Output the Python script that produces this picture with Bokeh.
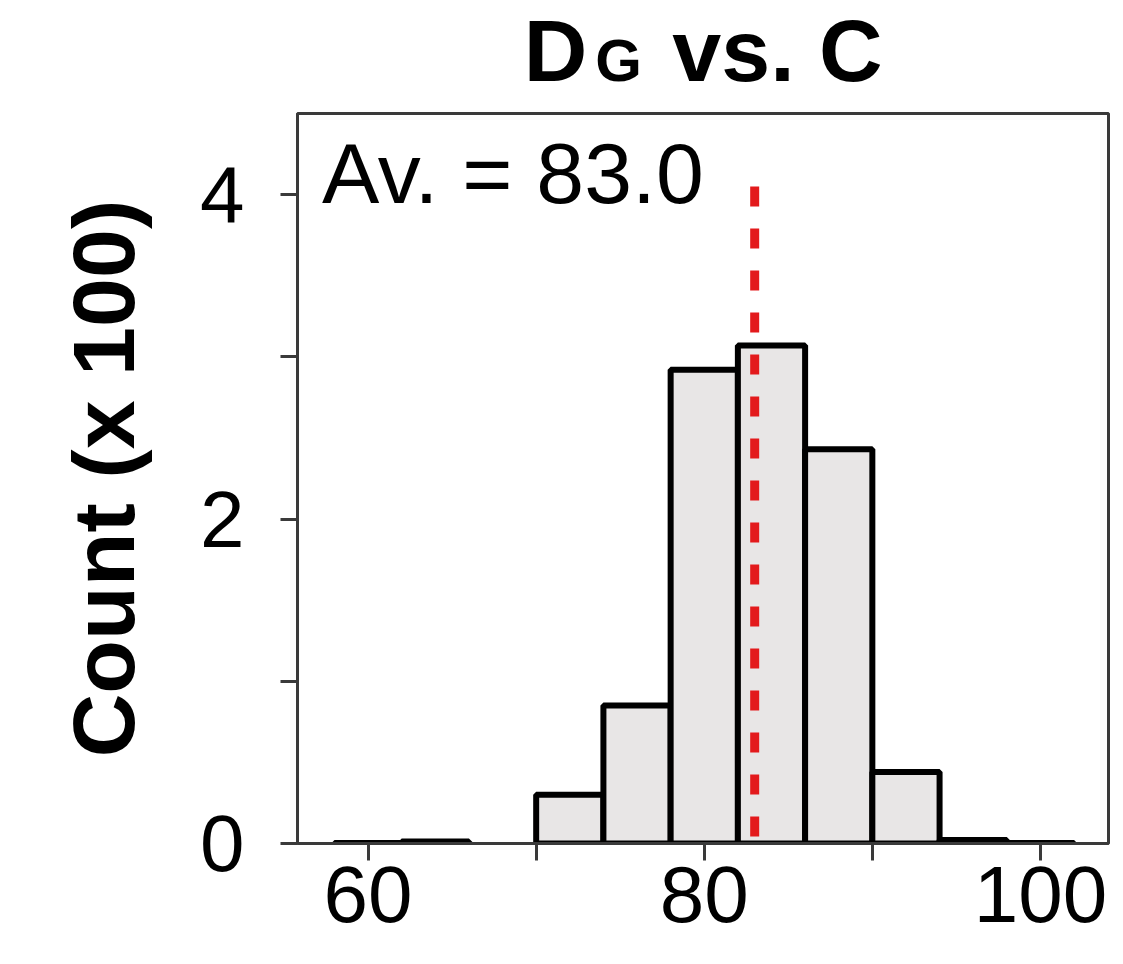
from bokeh.plotting import figure
from bokeh.models import Range1d, FixedTicker, ColumnDataSource
from bokeh.layouts import column
from bokeh.core.properties import value
from bokeh.embed import file_html
from bokeh.resources import INLINE

# ---- data (counts in hundreds) ----
bin_left = [58, 62, 66, 70, 74, 78, 82, 86, 90, 94, 98]
bin_right = [62, 66, 70, 74, 78, 82, 86, 90, 94, 98, 102]
counts = [0.003, 0.012, 0.0, 0.30, 0.85, 2.92, 3.07, 2.43, 0.44, 0.022, 0.003]
average = 83.0
x_ticks = [60, 70, 80, 90, 100]
x_tick_labels = {60: "60", 70: "", 80: "80", 90: "", 100: "100"}
y_ticks = [0, 1, 2, 3, 4]
y_tick_labels = {0: "0", 1: "", 2: "2", 3: "", 4: "4"}
title_main = "D"
title_sub = "G"
title_rest = "vs. C"
y_label = "Count (x 100)"

FONT = "Liberation Sans"
DARK = "#3a3a3a"
W = 1123
TITLE_H = 111
MAIN_H = 964 - TITLE_H

xr = Range1d(55.8, 104.05)

# ---- title strip ----
t = figure(width=W, height=TITLE_H, output_backend="svg", toolbar_location=None,
           x_range=xr, y_range=Range1d(0, TITLE_H))
t.min_border_left = 297
t.min_border_right = 15
t.min_border_top = 0
t.min_border_bottom = 0
t.axis.visible = False
t.grid.visible = False
t.outline_line_color = None
t.text(x=[69.26], y=[61], text=[title_main], text_font=value(FONT),
       text_font_size="88px", text_font_style="bold", text_color="black",
       text_baseline="alphabetic", text_align="left")
t.text(x=[73.51], y=[51], text=[title_sub], text_font=value(FONT),
       text_font_size="60px", text_font_style="bold", text_color="black",
       text_baseline="alphabetic", text_align="left")
t.text(x=[78.1], y=[61], text=[title_rest], text_font=value(FONT),
       text_font_size="88px", text_font_style="bold", text_color="black",
       text_baseline="alphabetic", text_align="left")

# ---- main histogram ----
p = figure(width=W, height=MAIN_H, output_backend="svg", toolbar_location=None,
           x_range=xr, y_range=Range1d(0, 4.5))
p.min_border_left = 297
p.min_border_right = 15
p.min_border_top = 2
p.min_border_bottom = 121
p.background_fill_color = "white"
p.border_fill_color = "white"
p.outline_line_color = DARK
p.outline_line_width = 3
p.grid.visible = False

keep = [i for i, c in enumerate(counts) if c > 0]
src = ColumnDataSource(dict(
    left=[bin_left[i] for i in keep],
    right=[bin_right[i] for i in keep],
    top=[counts[i] for i in keep],
    bottom=[0] * len(keep),
))
p.quad(left="left", right="right", top="top", bottom="bottom", source=src,
       fill_color="#e8e6e6", line_color="black", line_width=6)

p.line(x=[average, average], y=[4.05, 0], line_color="#e31a1c", line_width=9,
       line_dash="20 22")

for ax, ticks, labels in ((p.xaxis, x_ticks, x_tick_labels), (p.yaxis, y_ticks, y_tick_labels)):
    ax.ticker = FixedTicker(ticks=ticks)
    ax.major_label_overrides = labels
    ax.minor_tick_line_color = None
    ax.major_tick_in = 0
    ax.major_tick_out = 17
    ax.major_tick_line_width = 3
    ax.major_tick_line_color = DARK
    ax.axis_line_color = DARK
    ax.axis_line_width = 3
    ax.major_label_text_font = FONT
    ax.major_label_text_font_size = "80px"
    ax.major_label_text_color = "black"

p.xaxis.major_label_standoff = 6
p.yaxis.major_label_standoff = 36
p.yaxis.major_label_orientation = "horizontal"
p.yaxis.axis_label = y_label
p.yaxis.axis_label_text_font = FONT
p.yaxis.axis_label_text_font_size = "88px"
p.yaxis.axis_label_text_font_style = "bold"
p.yaxis.axis_label_text_color = "black"
p.yaxis.axis_label_standoff = 44

# Average annotation
p.text(x=[57.26], y=[4.136], text=[f"Av. = {average:.1f}"], text_font=value(FONT),
       text_font_size="86px", text_color="black",
       text_baseline="alphabetic", text_align="left")

open("out.html", "w").write(file_html(column(t, p, spacing=0), INLINE))
